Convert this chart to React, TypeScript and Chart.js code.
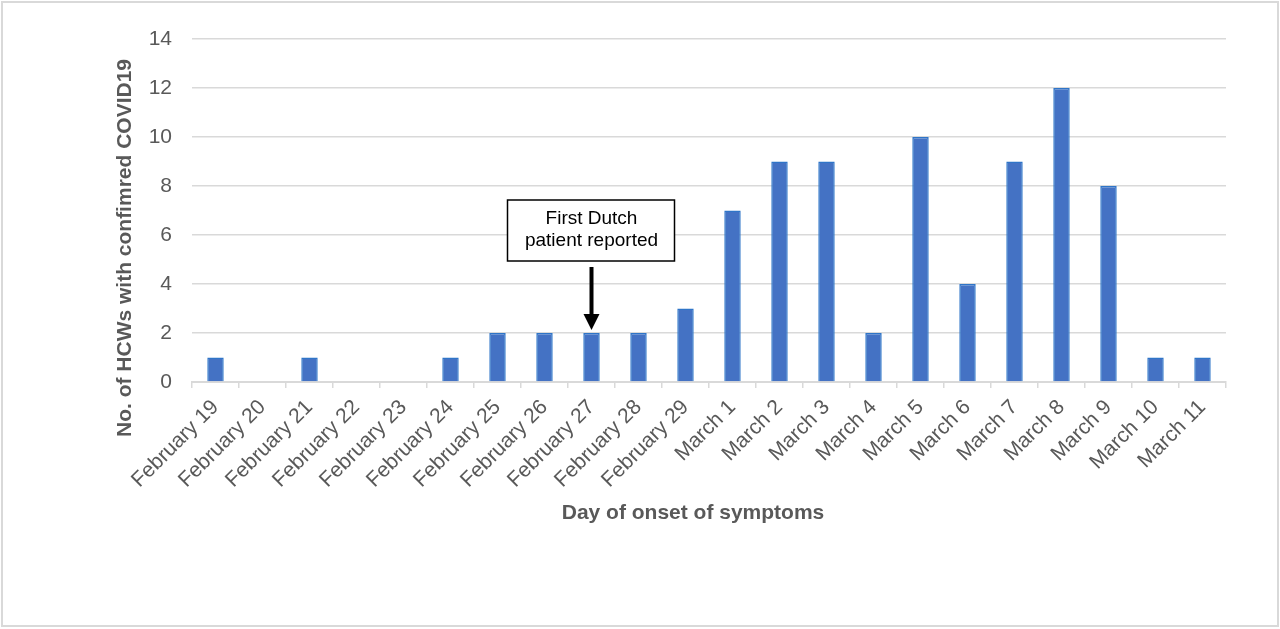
import { useEffect, useRef } from 'react';
import { Chart, registerables } from 'chart.js';

Chart.register(...registerables);

// Catégories (jour de début des symptômes) et nombre de cas
const days = [
  'February 19', 'February 20', 'February 21', 'February 22', 'February 23',
  'February 24', 'February 25', 'February 26', 'February 27', 'February 28',
  'February 29', 'March 1', 'March 2', 'March 3', 'March 4', 'March 5',
  'March 6', 'March 7', 'March 8', 'March 9', 'March 10', 'March 11',
];
const cases = [1, 0, 1, 0, 0, 1, 2, 2, 2, 2, 3, 7, 9, 9, 2, 10, 4, 9, 12, 8, 1, 1];

const yMax = 14;
const yStep = 2;
const yTitle = 'No. of HCWs with confimred COVID19';
const xTitle = 'Day of onset of symptoms';
const noteLines = ['First Dutch', 'patient reported'];
const noteDay = 'February 27';

const FONT = '"Liberation Sans", Arial, sans-serif';
const GREY = '#595959';
const LINE = '#d9d9d9';

const decorPlugin = {
  id: 'decor',
  beforeDraw(chart: any) {
    const { ctx, width, height } = chart;
    ctx.save();
    ctx.fillStyle = '#fff';
    ctx.fillRect(0, 0, width, height);
    ctx.strokeStyle = LINE;
    ctx.lineWidth = 2;
    ctx.strokeRect(2, 2, width - 4, height - 5);
    ctx.restore();
  },
  afterDraw(chart: any) {
    const { ctx } = chart;
    const x = chart.scales.x;
    const y = chart.scales.y;
    ctx.save();

    // titres des axes
    ctx.fillStyle = GREY;
    ctx.font = `bold 21px ${FONT}`;
    ctx.textAlign = 'center';
    ctx.textBaseline = 'middle';
    ctx.fillText(xTitle, 693, 513);
    ctx.save();
    ctx.translate(125, 248);
    ctx.rotate(-Math.PI / 2);
    ctx.fillText(yTitle, 0, 0);
    ctx.restore();

    // annotation : premier patient néerlandais
    const idx = days.indexOf(noteDay);
    const cx = x.getPixelForValue(idx);
    const barTop = y.getPixelForValue(cases[idx]);
    const boxTop = barTop - 133;
    ctx.fillStyle = '#fff';
    ctx.fillRect(cx - 84, boxTop, 167, 61);
    ctx.strokeStyle = '#000';
    ctx.lineWidth = 1.5;
    ctx.strokeRect(cx - 84, boxTop, 167, 61);
    ctx.fillStyle = '#000';
    ctx.font = `19px ${FONT}`;
    ctx.fillText(noteLines[0], cx, boxTop + 19);
    ctx.fillText(noteLines[1], cx, boxTop + 41);

    // flèche
    const tip = barTop - 3;
    ctx.fillRect(cx - 2, barTop - 66, 4, 50);
    ctx.beginPath();
    ctx.moveTo(cx - 8, tip - 16);
    ctx.lineTo(cx + 8, tip - 16);
    ctx.lineTo(cx, tip);
    ctx.closePath();
    ctx.fill();

    ctx.restore();
  },
};

export default function App() {
  const chartRef = useRef<HTMLCanvasElement>(null);
  const chartInstance = useRef<Chart | null>(null);

  useEffect(() => {
    if (!chartRef.current) return;
    const ctx = chartRef.current.getContext('2d');
    if (!ctx) return;

    chartInstance.current = new Chart(ctx, {
      type: 'bar',
      data: {
        labels: days,
        datasets: [
          {
            label: 'HCWs',
            data: cases,
            backgroundColor: '#4472C4',
            borderColor: '#2F75C8',
            borderWidth: 1.5,
            categoryPercentage: 1,
            barPercentage: 0.35,
          },
        ],
      },
      options: {
        responsive: true,
        maintainAspectRatio: false,
        animation: false,
        layout: {
          padding: { top: 39, right: 54, left: 0, bottom: 0 },
        },
        scales: {
          x: {
            afterFit: (scale: any) => {
              scale.height = 247;
            },
            grid: {
              display: true,
              drawOnChartArea: false,
              drawTicks: true,
              tickLength: 6,
              color: LINE,
              lineWidth: 1.5,
              offset: true,
            },
            border: { display: true, color: LINE, width: 2 },
            ticks: {
              color: GREY,
              font: { family: FONT, size: 21 },
              minRotation: 45,
              maxRotation: 45,
              autoSkip: false,
              padding: 7,
            },
          },
          y: {
            min: 0,
            max: yMax,
            afterFit: (scale: any) => {
              scale.width = 192;
            },
            grid: {
              color: LINE,
              lineWidth: 1.5,
              drawTicks: false,
            },
            border: { display: false },
            ticks: {
              stepSize: yStep,
              color: GREY,
              font: { family: FONT, size: 21 },
              padding: 20,
            },
          },
        },
        plugins: {
          legend: { display: false },
          tooltip: { enabled: false },
        },
      },
      plugins: [decorPlugin],
    });

    return () => {
      if (chartInstance.current) {
        chartInstance.current.destroy();
      }
    };
  }, []);

  return (
    <div style={{ position: 'absolute', left: 0, top: 0, width: 1280, height: 629 }}>
      <canvas ref={chartRef} />
    </div>
  );
}
